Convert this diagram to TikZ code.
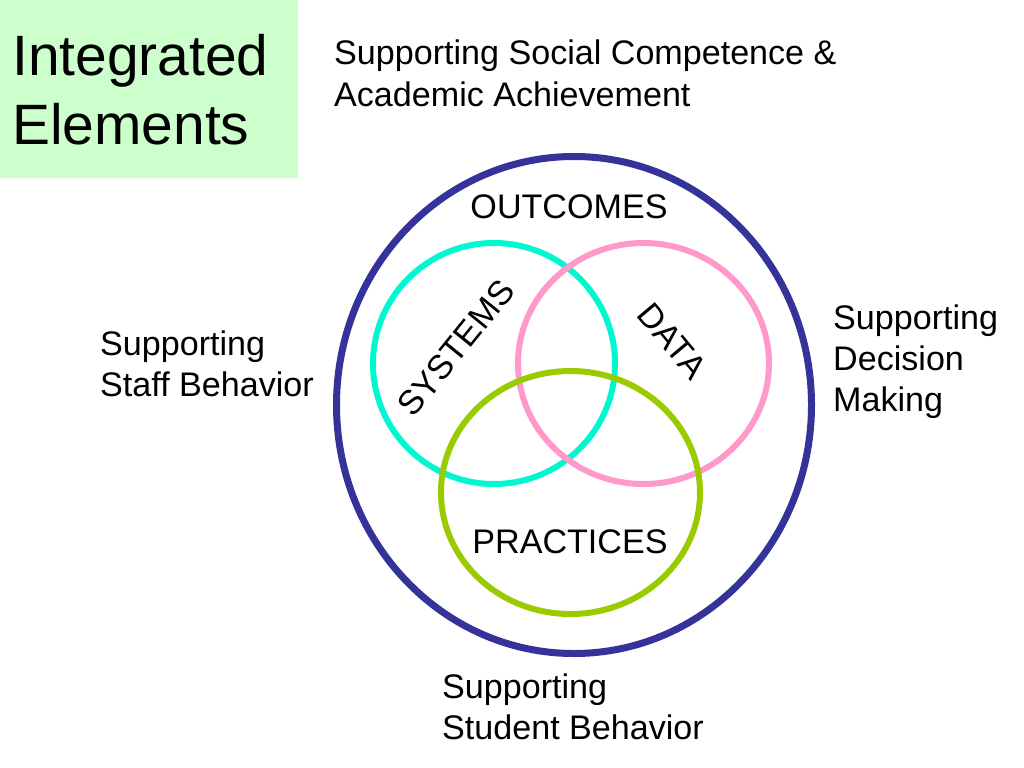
\documentclass[tikz,border=0pt]{standalone}
\usepackage{fontspec}
\setmainfont{Liberation Sans}
\usetikzlibrary{positioning, shapes.geometric}

\definecolor{navyring}{HTML}{333399}
\definecolor{cyanring}{HTML}{00F8D0}
\definecolor{pinkring}{HTML}{FF99CC}
\definecolor{greenring}{HTML}{99CC00}
\definecolor{titlegreen}{HTML}{CCFFCC}

\begin{document}
\begin{tikzpicture}[x=1bp, y=-1bp,
    ring/.style={ellipse, draw, line width=6bp, inner sep=0pt},
    label/.style={inner sep=0pt, align=left, font=\fontsize{34.1bp}{41bp}\selectfont},
    title/.style={inner sep=0pt, align=left, font=\fontsize{56.9bp}{68bp}\selectfont}]
    \useasboundingbox (0,0) rectangle (1024,768);

    \fill[titlegreen] (0,0) rectangle (298,178);
    \node[title, anchor=base west] (heading) at (12,144) {Integrated\\Elements};

    \node[ring, draw=navyring, line width=7bp, minimum width=475bp, minimum height=497bp] (outer) at (574,405) {};
    \node[ring, draw=cyanring, minimum width=242bp, minimum height=241bp] (systems) at (494,363.5) {};
    \node[ring, draw=pinkring, minimum width=251bp, minimum height=241bp] (data) at (643.5,363.5) {};
    \node[ring, draw=greenring, minimum width=259bp, minimum height=243bp] (practices) at (570.5,492.5) {};

    \node[label, anchor=base] (outcomes) at (569,218) {OUTCOMES};
    \node[label, anchor=base] (practiceslabel) at (570,553) {PRACTICES};
    \node[label, rotate=51] (systemslabel) at (456,348) {SYSTEMS};
    \node[label, rotate=-50] (datalabel) at (672,341) {DATA};

    \node[label, anchor=base west] (social) at (334,106) {Supporting Social Competence \&\\Academic Achievement};
    \node[label, anchor=base west] (staff) at (100,396) {Supporting\\Staff Behavior};
    \node[label, anchor=base west] (decision) at (833,411) {Supporting\\Decision\\Making};
    \node[label, anchor=base west] (student) at (442,739) {Supporting\\Student Behavior};
\end{tikzpicture}
\end{document}
